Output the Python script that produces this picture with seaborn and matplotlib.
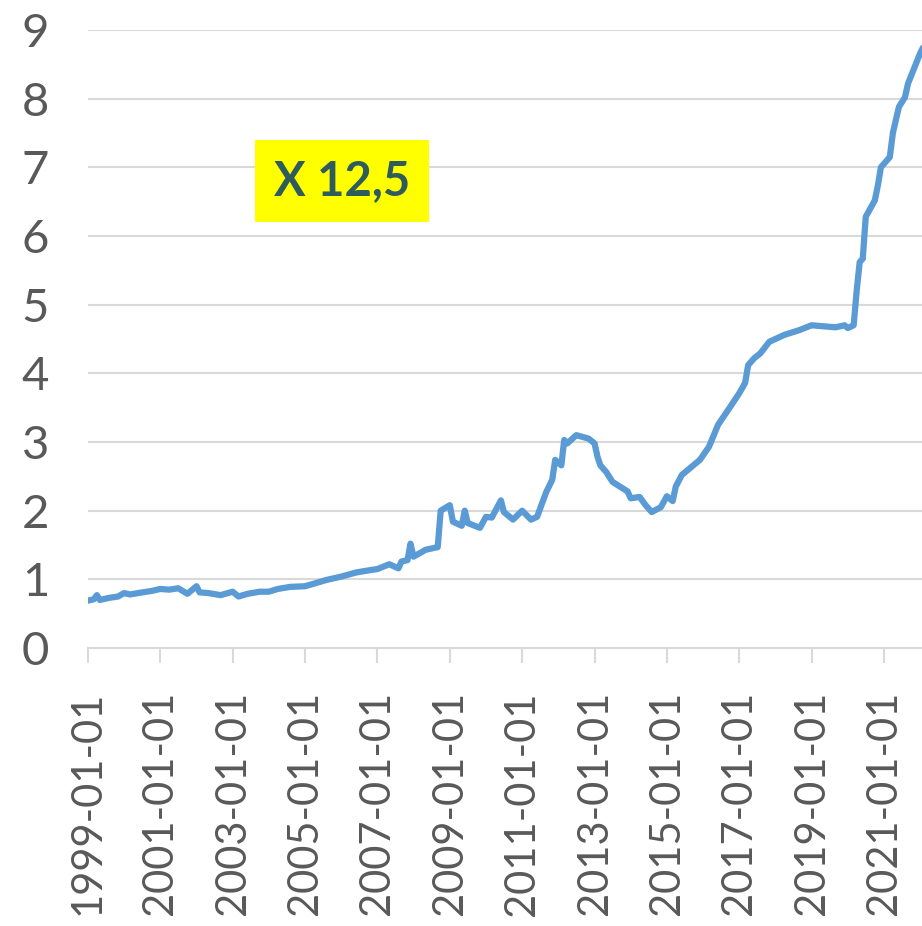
import pandas as pd
import seaborn as sns
import matplotlib.pyplot as plt

dates = [
    "1999-01-01", "1999-03-01", "1999-04-01", "1999-05-01", "1999-08-01", "1999-11-01",
    "2000-01-01", "2000-03-01", "2000-07-01", "2000-10-01",
    "2001-01-01", "2001-04-01", "2001-07-01", "2001-10-01",
    "2002-01-01", "2002-02-01", "2002-05-01", "2002-09-01",
    "2003-01-01", "2003-03-01", "2003-06-01", "2003-10-01",
    "2004-01-01", "2004-04-01", "2004-08-01",
    "2005-01-01", "2005-05-01", "2005-08-01",
    "2006-01-01", "2006-06-01", "2006-10-01",
    "2007-01-01", "2007-05-01", "2007-08-01", "2007-09-01", "2007-11-01", "2007-12-01",
    "2008-01-01", "2008-05-01", "2008-09-01", "2008-10-01",
    "2009-01-01", "2009-02-01", "2009-05-01", "2009-06-01", "2009-07-01", "2009-11-01",
    "2010-01-01", "2010-03-01", "2010-06-01", "2010-07-01", "2010-10-01",
    "2011-01-01", "2011-04-01", "2011-06-01", "2011-09-01", "2011-11-01", "2011-12-01",
    "2012-02-01", "2012-03-01", "2012-04-01", "2012-07-01", "2012-11-01",
    "2013-01-01", "2013-02-01", "2013-03-01", "2013-05-01", "2013-07-01", "2013-12-01",
    "2014-01-01", "2014-04-01", "2014-06-01", "2014-08-01", "2014-11-01",
    "2015-01-01", "2015-03-01", "2015-04-01", "2015-06-01", "2015-12-01",
    "2016-03-01", "2016-06-01", "2016-10-01", "2017-01-01", "2017-03-01", "2017-04-01",
    "2017-06-01", "2017-08-01", "2017-11-01",
    "2018-04-01", "2018-09-01", "2019-01-01", "2019-09-01", "2019-12-01",
    "2020-01-01", "2020-03-01", "2020-04-01", "2020-05-01", "2020-06-01", "2020-07-01",
    "2020-10-01", "2020-11-01", "2020-12-01",
    "2021-03-01", "2021-04-01", "2021-05-01", "2021-06-01", "2021-08-01", "2021-09-01",
    "2022-01-01", "2022-02-01",
]
values = [
    0.69, 0.71, 0.77, 0.70, 0.73, 0.75,
    0.80, 0.78, 0.81, 0.83,
    0.86, 0.85, 0.87, 0.79,
    0.90, 0.81, 0.80, 0.77,
    0.82, 0.75, 0.79, 0.82,
    0.82, 0.86, 0.89,
    0.90, 0.95, 0.99,
    1.04, 1.10, 1.13,
    1.15, 1.22, 1.16, 1.26, 1.28, 1.52,
    1.33, 1.43, 1.47, 2.00,
    2.08, 1.84, 1.78, 2.00, 1.82, 1.75,
    1.91, 1.90, 2.15, 1.98, 1.87,
    2.00, 1.87, 1.91, 2.27, 2.45, 2.74,
    2.66, 3.03, 2.98, 3.10, 3.05,
    2.98, 2.78, 2.66, 2.56, 2.42, 2.28,
    2.18, 2.20, 2.08, 1.98, 2.05,
    2.21, 2.14, 2.35, 2.52, 2.74,
    2.93, 3.25, 3.51, 3.71, 3.86, 4.12,
    4.22, 4.29, 4.46,
    4.56, 4.63, 4.70, 4.67, 4.70,
    4.66, 4.70, 5.21, 5.62, 5.67, 6.28,
    6.52, 6.74, 7.00,
    7.15, 7.50, 7.69, 7.88, 8.02, 8.22,
    8.66, 8.75,
]
tick_labels = ["1999-01-01", "2001-01-01", "2003-01-01", "2005-01-01", "2007-01-01",
               "2009-01-01", "2011-01-01", "2013-01-01", "2015-01-01", "2017-01-01",
               "2019-01-01", "2021-01-01"]
y_ticks = [0, 1, 2, 3, 4, 5, 6, 7, 8, 9]
note = "X 12,5"

df = pd.DataFrame({"date": pd.to_datetime(dates), "value": values})

sns.set_style("white")
plt.rcParams["font.family"] = ["Lato", "DejaVu Sans"]

fig = plt.figure(figsize=(9.22, 9.26), dpi=100)
ax = fig.add_axes([0.0954, 0.3002, 0.9046, 0.6674])

sns.lineplot(data=df, x="date", y="value", ax=ax, color="#5b9bd5", linewidth=4.5)

ax.set_ylim(0, 9)
ax.set_xlim(pd.Timestamp("1999-01-01"), pd.Timestamp("2022-01-20"))
ax.set_yticks(y_ticks)
ax.set_xticks(pd.to_datetime(tick_labels))
ax.set_xticklabels(tick_labels, rotation=90)
ax.grid(axis="y", color="#d9d9d9", linewidth=1.5)
ax.set_axisbelow(True)
ax.set_xlabel("")
ax.set_ylabel("")

for s in ["top", "right", "left"]:
    ax.spines[s].set_visible(False)
ax.spines["bottom"].set_color("#d9d9d9")
ax.spines["bottom"].set_linewidth(1.5)

ax.tick_params(axis="y", length=0, pad=28, labelsize=34, labelcolor="#595959")
ax.tick_params(axis="x", length=11, width=1.5, color="#d9d9d9", pad=20,
               labelsize=30, labelcolor="#595959", bottom=True)

ax.text(0.305, 0.756, note, transform=ax.transAxes, ha="center", va="center",
        fontsize=34, fontweight="bold", color="#2e5b5b",
        bbox=dict(boxstyle="square,pad=0.4", facecolor="#ffff00", edgecolor="none"))

fig.savefig("out.png", dpi=100)
